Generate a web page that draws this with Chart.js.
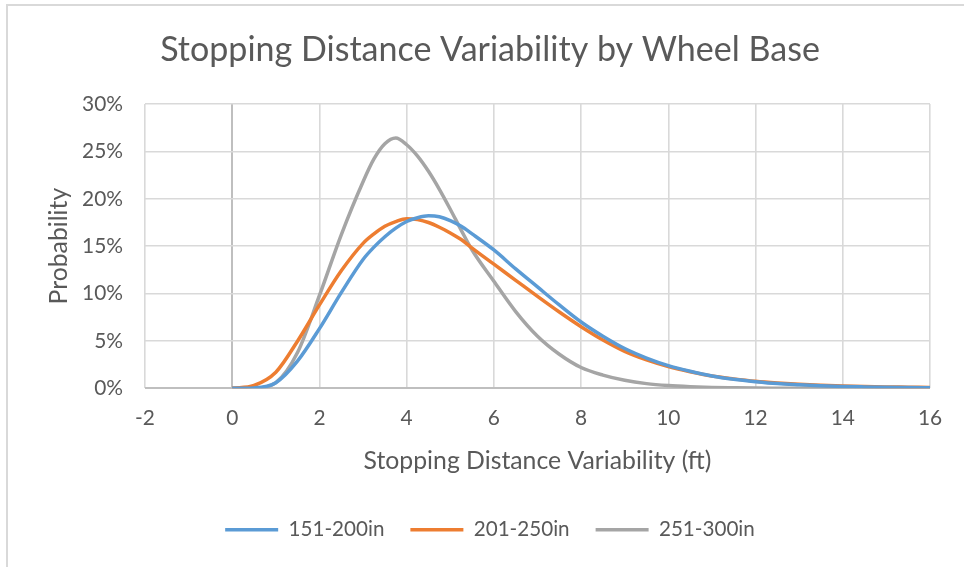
<!DOCTYPE html>
<html><head><meta charset="utf-8">
<script src="https://cdn.jsdelivr.net/npm/chart.js@4/dist/chart.umd.min.js"></script>
<style>
html,body{margin:0;padding:0;background:#fff;overflow:hidden;}
#wrap{position:relative;width:964px;height:567px;overflow:hidden;}
canvas{display:block;}
#frame{position:absolute;left:6px;top:4px;width:990px;height:600px;border:2px solid #d9d9d9;pointer-events:none;box-sizing:border-box;}
</style></head>
<body>
<div id="wrap"><canvas id="c" width="964" height="567"></canvas><div id="frame"></div></div>
<script>
// ---- data ----
const TITLE = 'Stopping Distance Variability by Wheel Base';
const X_TITLE = 'Stopping Distance Variability (ft)';
const Y_TITLE = 'Probability';
const SERIES_NAMES = ['151-200in', '201-250in', '251-300in'];
const X_VALUES = [0,0.5,1,1.5,2,2.5,3,3.25,3.5,3.75,4,4.25,4.5,4.75,5,5.25,5.5,6,6.5,7,7.5,8,8.5,9,9.5,10,10.5,11,11.5,12,12.5,13,13.5,14,14.5,15,15.5,16];
const WB_151_200 = [0,0.05,0.6,2.9,6.3,10.1,13.6,14.9,16.0,16.9,17.6,18.0,18.2,18.1,17.7,17.1,16.3,14.6,12.6,10.7,8.8,7.0,5.5,4.2,3.2,2.4,1.8,1.3,0.95,0.7,0.5,0.38,0.28,0.2,0.15,0.11,0.08,0.06];
const WB_201_250 = [0,0.3,1.7,5.0,8.8,12.4,15.3,16.3,17.1,17.6,17.9,17.8,17.5,17.0,16.4,15.7,14.8,13.1,11.4,9.7,8.05,6.5,5.1,3.9,3.0,2.3,1.75,1.3,1.0,0.75,0.57,0.43,0.33,0.25,0.19,0.15,0.12,0.09];
const WB_251_300 = [0,0.02,0.6,3.8,9.8,16.2,21.8,24.2,25.8,26.4,25.7,24.5,22.9,21.0,18.9,16.7,14.6,11.3,8.1,5.5,3.6,2.2,1.4,0.85,0.5,0.3,0.18,0.1,0.06,0.03,0.02,0.01,0.01,0,0,0,0,0];
const X_TICKS = [-2,0,2,4,6,8,10,12,14,16];
const Y_TICKS = [0,5,10,15,20,25,30];

// ---- styling ----
const COLORS = ['#5B9BD5', '#ED7D31', '#A5A5A5'];
const FAMILY = 'Lato, "Open Sans", sans-serif';
const TEXT = '#595959';

function fitSize(text, width, weight) {
  const ctx = document.createElement('canvas').getContext('2d');
  ctx.font = (weight || 'normal') + ' 100px ' + FAMILY;
  return 100 * width / ctx.measureText(text).width;
}
const titleSize = fitSize(TITLE, 660);
const tickSize = fitSize('30%', 41);
const axisTitleSize = fitSize(X_TITLE, 348);
const legendSize = fitSize('151-200in', 96);

const toPts = arr => X_VALUES.map((x, i) => ({x, y: arr[i]}));
const seriesData = [WB_151_200, WB_201_250, WB_251_300];

const datasets = SERIES_NAMES.map((name, i) => ({
  label: name,
  data: toPts(seriesData[i]),
  borderColor: COLORS[i],
  backgroundColor: COLORS[i],
  borderWidth: 3.5,
  pointRadius: 0,
  fill: false,
  cubicInterpolationMode: 'monotone',
  pointStyle: 'line'
}));

const CHART_LEFT = 145, CHART_RIGHT = 930, CHART_TOP = 104, CHART_BOTTOM = 388;
const LAYOUT_LEFT = 16;
const X_SCALE_H = 105;
const X_TITLE_Y = 461;

new Chart(document.getElementById('c'), {
  type: 'line',
  data: { datasets },
  options: {
    responsive: false,
    devicePixelRatio: 1,
    animation: false,
    layout: { padding: { left: LAYOUT_LEFT, right: 0, top: 0, bottom: 17 } },
    plugins: {
      title: {
        display: true, text: TITLE, color: TEXT,
        font: { family: FAMILY, size: titleSize, weight: 'normal' },
        padding: { top: 50 - titleSize * 0.6, bottom: CHART_TOP - 50 - titleSize * 0.6 }
      },
      legend: {
        display: true, position: 'bottom',
        labels: {
          usePointStyle: true, pointStyle: 'line', pointStyleWidth: 53,
          color: TEXT, font: { family: FAMILY, size: legendSize },
          padding: 26
        }
      },
      tooltip: { enabled: false }
    },
    scales: {
      x: {
        type: 'linear', min: -2, max: 16,
        afterBuildTicks: s => { s.ticks = X_TICKS.map(v => ({value: v})); },
        afterFit: s => { s.height = X_SCALE_H; },
        ticks: { color: TEXT, font: { family: FAMILY, size: tickSize }, padding: 17, maxRotation: 0 },
        grid: { drawTicks: false,
          color: c => (c.tick && c.tick.value === 0) ? '#bfbfbf' : '#d9d9d9',
          lineWidth: c => (c.tick && c.tick.value === 0) ? 2 : 1.6 },
        border: { display: false },
        title: { display: true, text: X_TITLE, color: TEXT,
          font: { family: FAMILY, size: axisTitleSize },
          padding: { top: 0, bottom: (CHART_BOTTOM + X_SCALE_H) - X_TITLE_Y - axisTitleSize * 0.6 } }
      },
      y: {
        type: 'linear', min: 0, max: 30,
        afterBuildTicks: s => { s.ticks = Y_TICKS.map(v => ({value: v})); },
        afterFit: s => { s.width = CHART_LEFT - LAYOUT_LEFT; },
        ticks: { color: TEXT, font: { family: FAMILY, size: tickSize }, padding: 22,
          callback: v => v + '%' },
        grid: { color: c => c.tick && c.tick.value === 0 ? '#bfbfbf' : '#d9d9d9',
          lineWidth: c => c.tick && c.tick.value === 0 ? 2 : 1.6, drawTicks: false },
        border: { display: false },
        title: { display: true, text: Y_TITLE, color: TEXT,
          font: { family: FAMILY, size: axisTitleSize },
          padding: { top: 59 - LAYOUT_LEFT - axisTitleSize * 0.6, bottom: 0 } }
      },
      yRight: {
        type: 'linear', position: 'right', min: 0, max: 30,
        afterFit: s => { s.width = 964 - CHART_RIGHT; },
        ticks: { display: false },
        grid: { display: false, drawTicks: false },
        border: { display: false },
        title: { display: false }
      }
    }
  }
});
</script>
</body></html>
